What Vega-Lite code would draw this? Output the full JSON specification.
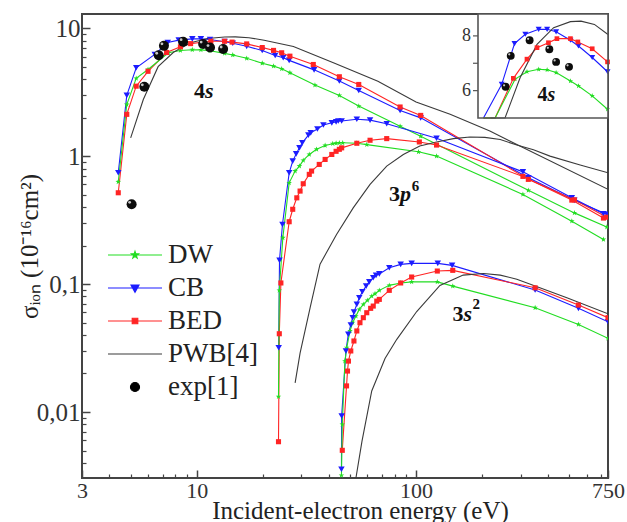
{
  "$schema": "https://vega.github.io/schema/vega-lite/v6.json",
  "width": 526,
  "height": 464,
  "autosize": {"type": "pad"},
  "padding": {"left": 17, "top": 13, "right": 5, "bottom": 5},
  "background": "white",
  "config": {
    "view": {"stroke": "#444", "strokeWidth": 2},
    "font": "Liberation Serif"
  },
  "datasets": {
    "curves": [
      {"m":"CB","s":"4s","e":4.39,"v":0.741},{"m":"CB","s":"4s","e":4.8,"v":2.98},{"m":"CB","s":"4s","e":5.3,"v":4.9},{"m":"CB","s":"4s","e":6.44,"v":6.23},{"m":"CB","s":"4s","e":7.38,"v":7.72},{"m":"CB","s":"4s","e":8.28,"v":8.06},{"m":"CB","s":"4s","e":9.55,"v":8.24},{"m":"CB","s":"4s","e":10.45,"v":8.24},{"m":"CB","s":"4s","e":11.5,"v":8.15},{"m":"CB","s":"4s","e":13.4,"v":7.84},{"m":"CB","s":"4s","e":14.6,"v":7.63},{"m":"CB","s":"4s","e":16.9,"v":7.21},{"m":"CB","s":"4s","e":19.9,"v":6.69},{"m":"CB","s":"4s","e":22.8,"v":6.12},{"m":"CB","s":"4s","e":24.8,"v":5.87},{"m":"CB","s":"4s","e":26.4,"v":5.6},{"m":"CB","s":"4s","e":34.3,"v":4.72},{"m":"CB","s":"4s","e":44.7,"v":3.86},{"m":"CB","s":"4s","e":54.8,"v":3.26},{"m":"CB","s":"4s","e":84.6,"v":2.27},{"m":"CB","s":"4s","e":105,"v":1.99},{"m":"CB","s":"4s","e":325,"v":0.677},{"m":"CB","s":"4s","e":527,"v":0.451},{"m":"CB","s":"4s","e":741,"v":0.351},
      {"m":"BED","s":"4s","e":4.39,"v":0.517},{"m":"BED","s":"4s","e":4.8,"v":2.12},{"m":"BED","s":"4s","e":5.3,"v":3.52},{"m":"BED","s":"4s","e":6.0,"v":4.6},{"m":"BED","s":"4s","e":7.29,"v":6.45},{"m":"BED","s":"4s","e":8.43,"v":7.15},{"m":"BED","s":"4s","e":9.38,"v":7.57},{"m":"BED","s":"4s","e":10.6,"v":7.75},{"m":"BED","s":"4s","e":11.6,"v":7.9},{"m":"BED","s":"4s","e":13.4,"v":7.9},{"m":"BED","s":"4s","e":14.5,"v":7.78},{"m":"BED","s":"4s","e":16.9,"v":7.53},{"m":"BED","s":"4s","e":19.9,"v":7.05},{"m":"BED","s":"4s","e":22.4,"v":6.7},{"m":"BED","s":"4s","e":24.4,"v":6.42},{"m":"BED","s":"4s","e":26.6,"v":6.04},{"m":"BED","s":"4s","e":34.0,"v":5.2},{"m":"BED","s":"4s","e":44.7,"v":4.17},{"m":"BED","s":"4s","e":54.8,"v":3.63},{"m":"BED","s":"4s","e":84.6,"v":2.42},{"m":"BED","s":"4s","e":105,"v":2.08},{"m":"BED","s":"4s","e":325,"v":0.658},{"m":"BED","s":"4s","e":527,"v":0.455},{"m":"BED","s":"4s","e":741,"v":0.333},
      {"m":"DW","s":"4s","e":4.39,"v":0.63},{"m":"DW","s":"4s","e":4.8,"v":2.53},{"m":"DW","s":"4s","e":5.3,"v":4.05},{"m":"DW","s":"4s","e":6.0,"v":4.75},{"m":"DW","s":"4s","e":7.43,"v":6.42},{"m":"DW","s":"4s","e":8.43,"v":6.69},{"m":"DW","s":"4s","e":9.55,"v":6.78},{"m":"DW","s":"4s","e":10.45,"v":6.76},{"m":"DW","s":"4s","e":11.5,"v":6.66},{"m":"DW","s":"4s","e":13.4,"v":6.35},{"m":"DW","s":"4s","e":14.6,"v":6.17},{"m":"DW","s":"4s","e":16.9,"v":5.81},{"m":"DW","s":"4s","e":19.9,"v":5.32},{"m":"DW","s":"4s","e":22.4,"v":5.05},{"m":"DW","s":"4s","e":24.4,"v":4.81},{"m":"DW","s":"4s","e":26.6,"v":4.48},{"m":"DW","s":"4s","e":34.6,"v":3.59},{"m":"DW","s":"4s","e":44.7,"v":2.98},{"m":"DW","s":"4s","e":54.8,"v":2.46},{"m":"DW","s":"4s","e":84.6,"v":1.71},{"m":"DW","s":"4s","e":105,"v":1.43},{"m":"DW","s":"4s","e":325,"v":0.54},{"m":"DW","s":"4s","e":527,"v":0.36},{"m":"DW","s":"4s","e":741,"v":0.279},
      {"m":"PWB[4]","s":"4s","e":5.0,"v":1.39},{"m":"PWB[4]","s":"4s","e":5.71,"v":2.77},{"m":"PWB[4]","s":"4s","e":6.67,"v":5.0},{"m":"PWB[4]","s":"4s","e":7.84,"v":6.48},{"m":"PWB[4]","s":"4s","e":9.38,"v":7.69},{"m":"PWB[4]","s":"4s","e":11.2,"v":8.3},{"m":"PWB[4]","s":"4s","e":13.4,"v":8.52},{"m":"PWB[4]","s":"4s","e":15.0,"v":8.54},{"m":"PWB[4]","s":"4s","e":17.3,"v":8.42},{"m":"PWB[4]","s":"4s","e":20.3,"v":8.05},{"m":"PWB[4]","s":"4s","e":27.6,"v":7.2},{"m":"PWB[4]","s":"4s","e":42,"v":5.36},{"m":"PWB[4]","s":"4s","e":67,"v":3.85},{"m":"PWB[4]","s":"4s","e":100,"v":2.65},{"m":"PWB[4]","s":"4s","e":143,"v":2.12},{"m":"PWB[4]","s":"4s","e":217,"v":1.57},{"m":"PWB[4]","s":"4s","e":288,"v":1.23},{"m":"PWB[4]","s":"4s","e":750,"v":0.55},
      {"m":"CB","s":"3p","e":23.65,"v":0.0318},{"m":"CB","s":"3p","e":23.85,"v":0.153},{"m":"CB","s":"3p","e":24.6,"v":0.292},{"m":"CB","s":"3p","e":26.4,"v":0.741},{"m":"CB","s":"3p","e":27.4,"v":0.914},{"m":"CB","s":"3p","e":28.4,"v":1.04},{"m":"CB","s":"3p","e":29.4,"v":1.16},{"m":"CB","s":"3p","e":30.3,"v":1.27},{"m":"CB","s":"3p","e":32.3,"v":1.46},{"m":"CB","s":"3p","e":33.1,"v":1.52},{"m":"CB","s":"3p","e":35.5,"v":1.63},{"m":"CB","s":"3p","e":37.8,"v":1.75},{"m":"CB","s":"3p","e":41.3,"v":1.82},{"m":"CB","s":"3p","e":43.2,"v":1.85},{"m":"CB","s":"3p","e":44.2,"v":1.88},{"m":"CB","s":"3p","e":45.8,"v":1.88},{"m":"CB","s":"3p","e":53.7,"v":1.94},{"m":"CB","s":"3p","e":61.7,"v":1.91},{"m":"CB","s":"3p","e":73.5,"v":1.79},{"m":"CB","s":"3p","e":124,"v":1.38},{"m":"CB","s":"3p","e":307,"v":0.753},{"m":"CB","s":"3p","e":513,"v":0.472},{"m":"CB","s":"3p","e":715,"v":0.354},
      {"m":"BED","s":"3p","e":23.6,"v":0.00586},{"m":"BED","s":"3p","e":23.8,"v":0.0409},{"m":"BED","s":"3p","e":24.2,"v":0.102},{"m":"BED","s":"3p","e":26.4,"v":0.307},{"m":"BED","s":"3p","e":27.4,"v":0.384},{"m":"BED","s":"3p","e":28.6,"v":0.472},{"m":"BED","s":"3p","e":29.6,"v":0.533},{"m":"BED","s":"3p","e":30.6,"v":0.608},{"m":"BED","s":"3p","e":32.6,"v":0.72},{"m":"BED","s":"3p","e":33.4,"v":0.764},{"m":"BED","s":"3p","e":36.2,"v":0.861},{"m":"BED","s":"3p","e":38.5,"v":0.942},{"m":"BED","s":"3p","e":41.3,"v":1.03},{"m":"BED","s":"3p","e":43.2,"v":1.09},{"m":"BED","s":"3p","e":44.7,"v":1.13},{"m":"BED","s":"3p","e":45.8,"v":1.16},{"m":"BED","s":"3p","e":53.7,"v":1.26},{"m":"BED","s":"3p","e":61.7,"v":1.33},{"m":"BED","s":"3p","e":73.5,"v":1.37},{"m":"BED","s":"3p","e":103.5,"v":1.29},{"m":"BED","s":"3p","e":124,"v":1.22},{"m":"BED","s":"3p","e":307,"v":0.694},{"m":"BED","s":"3p","e":513,"v":0.453},{"m":"BED","s":"3p","e":715,"v":0.328},
      {"m":"DW","s":"3p","e":23.6,"v":0.0132},{"m":"DW","s":"3p","e":23.8,"v":0.0893},{"m":"DW","s":"3p","e":24.7,"v":0.23},{"m":"DW","s":"3p","e":26.4,"v":0.618},{"m":"DW","s":"3p","e":28.1,"v":0.764},{"m":"DW","s":"3p","e":29.4,"v":0.836},{"m":"DW","s":"3p","e":30.6,"v":0.925},{"m":"DW","s":"3p","e":32.6,"v":1.03},{"m":"DW","s":"3p","e":35.2,"v":1.13},{"m":"DW","s":"3p","e":38.5,"v":1.21},{"m":"DW","s":"3p","e":41.7,"v":1.25},{"m":"DW","s":"3p","e":43.2,"v":1.26},{"m":"DW","s":"3p","e":44.7,"v":1.27},{"m":"DW","s":"3p","e":46.3,"v":1.27},{"m":"DW","s":"3p","e":53.7,"v":1.26},{"m":"DW","s":"3p","e":59.6,"v":1.23},{"m":"DW","s":"3p","e":102.6,"v":1.08},{"m":"DW","s":"3p","e":124,"v":1.0},{"m":"DW","s":"3p","e":307,"v":0.502},{"m":"DW","s":"3p","e":513,"v":0.31},{"m":"DW","s":"3p","e":715,"v":0.223},
      {"m":"PWB[4]","s":"3p","e":28.1,"v":0.0169},{"m":"PWB[4]","s":"3p","e":29.6,"v":0.0289},{"m":"PWB[4]","s":"3p","e":32.9,"v":0.0653},{"m":"PWB[4]","s":"3p","e":36.5,"v":0.143},{"m":"PWB[4]","s":"3p","e":43.4,"v":0.244},{"m":"PWB[4]","s":"3p","e":51.7,"v":0.394},{"m":"PWB[4]","s":"3p","e":61.7,"v":0.601},{"m":"PWB[4]","s":"3p","e":73.5,"v":0.835},{"m":"PWB[4]","s":"3p","e":87.5,"v":1.03},{"m":"PWB[4]","s":"3p","e":104,"v":1.2},{"m":"PWB[4]","s":"3p","e":124,"v":1.29},{"m":"PWB[4]","s":"3p","e":148,"v":1.37},{"m":"PWB[4]","s":"3p","e":176,"v":1.41},{"m":"PWB[4]","s":"3p","e":206,"v":1.4},{"m":"PWB[4]","s":"3p","e":242,"v":1.35},{"m":"PWB[4]","s":"3p","e":288,"v":1.22},{"m":"PWB[4]","s":"3p","e":343,"v":1.12},{"m":"PWB[4]","s":"3p","e":408,"v":1.0},{"m":"PWB[4]","s":"3p","e":560,"v":0.851},{"m":"PWB[4]","s":"3p","e":750,"v":0.741},
      {"m":"CB","s":"3s","e":45.7,"v":0.00357},{"m":"CB","s":"3s","e":45.8,"v":0.0093},{"m":"CB","s":"3s","e":47.9,"v":0.03},{"m":"CB","s":"3s","e":49.1,"v":0.0405},{"m":"CB","s":"3s","e":50.4,"v":0.0479},{"m":"CB","s":"3s","e":51.4,"v":0.0546},{"m":"CB","s":"3s","e":52.1,"v":0.0604},{"m":"CB","s":"3s","e":53.7,"v":0.0694},{"m":"CB","s":"3s","e":55.1,"v":0.0782},{"m":"CB","s":"3s","e":56.9,"v":0.0871},{"m":"CB","s":"3s","e":59.2,"v":0.0964},{"m":"CB","s":"3s","e":61.2,"v":0.104},{"m":"CB","s":"3s","e":63.8,"v":0.112},{"m":"CB","s":"3s","e":65.7,"v":0.117},{"m":"CB","s":"3s","e":68.0,"v":0.12},{"m":"CB","s":"3s","e":75.5,"v":0.134},{"m":"CB","s":"3s","e":85.1,"v":0.1425},{"m":"CB","s":"3s","e":95.5,"v":0.145},{"m":"CB","s":"3s","e":125.6,"v":0.145},{"m":"CB","s":"3s","e":146,"v":0.14},{"m":"CB","s":"3s","e":349,"v":0.0898},{"m":"CB","s":"3s","e":550,"v":0.0646},{"m":"CB","s":"3s","e":750,"v":0.0507},
      {"m":"BED","s":"3s","e":46.1,"v":0.00502},{"m":"BED","s":"3s","e":48.2,"v":0.016},{"m":"BED","s":"3s","e":48.7,"v":0.0209},{"m":"BED","s":"3s","e":49.2,"v":0.025},{"m":"BED","s":"3s","e":50.4,"v":0.03},{"m":"BED","s":"3s","e":52.1,"v":0.0359},{"m":"BED","s":"3s","e":53.7,"v":0.043},{"m":"BED","s":"3s","e":55.5,"v":0.0499},{"m":"BED","s":"3s","e":57.5,"v":0.0546},{"m":"BED","s":"3s","e":59.6,"v":0.0597},{"m":"BED","s":"3s","e":62.1,"v":0.0646},{"m":"BED","s":"3s","e":63.8,"v":0.0673},{"m":"BED","s":"3s","e":66.2,"v":0.0736},{"m":"BED","s":"3s","e":68.0,"v":0.0759},{"m":"BED","s":"3s","e":75.5,"v":0.0893},{"m":"BED","s":"3s","e":85.1,"v":0.102},{"m":"BED","s":"3s","e":95.5,"v":0.1135},{"m":"BED","s":"3s","e":125,"v":0.1264},{"m":"BED","s":"3s","e":147,"v":0.128},{"m":"BED","s":"3s","e":349,"v":0.0935},{"m":"BED","s":"3s","e":550,"v":0.0685},{"m":"BED","s":"3s","e":750,"v":0.0546},
      {"m":"DW","s":"3s","e":45.7,"v":0.0032},{"m":"DW","s":"3s","e":46.1,"v":0.008},{"m":"DW","s":"3s","e":47.4,"v":0.025},{"m":"DW","s":"3s","e":48.3,"v":0.0318},{"m":"DW","s":"3s","e":50.0,"v":0.043},{"m":"DW","s":"3s","e":51.4,"v":0.0499},{"m":"DW","s":"3s","e":53.2,"v":0.0562},{"m":"DW","s":"3s","e":55.1,"v":0.0634},{"m":"DW","s":"3s","e":57.5,"v":0.0694},{"m":"DW","s":"3s","e":60.0,"v":0.0746},{"m":"DW","s":"3s","e":62.8,"v":0.0805},{"m":"DW","s":"3s","e":65.0,"v":0.084},{"m":"DW","s":"3s","e":68.0,"v":0.0893},{"m":"DW","s":"3s","e":75.5,"v":0.0977},{"m":"DW","s":"3s","e":85.1,"v":0.102},{"m":"DW","s":"3s","e":95.5,"v":0.104},{"m":"DW","s":"3s","e":125,"v":0.104},{"m":"DW","s":"3s","e":147,"v":0.0964},{"m":"DW","s":"3s","e":349,"v":0.0653},{"m":"DW","s":"3s","e":550,"v":0.0484},{"m":"DW","s":"3s","e":750,"v":0.0377},
      {"m":"PWB[4]","s":"3s","e":53.2,"v":0.00305},{"m":"PWB[4]","s":"3s","e":56.7,"v":0.00593},{"m":"PWB[4]","s":"3s","e":62.8,"v":0.0146},{"m":"PWB[4]","s":"3s","e":72.2,"v":0.0262},{"m":"PWB[4]","s":"3s","e":81.7,"v":0.037},{"m":"PWB[4]","s":"3s","e":100.7,"v":0.061},{"m":"PWB[4]","s":"3s","e":128.5,"v":0.0975},{"m":"PWB[4]","s":"3s","e":164,"v":0.1175},{"m":"PWB[4]","s":"3s","e":203,"v":0.121},{"m":"PWB[4]","s":"3s","e":242,"v":0.1175},{"m":"PWB[4]","s":"3s","e":288,"v":0.109},{"m":"PWB[4]","s":"3s","e":349,"v":0.0964},{"m":"PWB[4]","s":"3s","e":487,"v":0.0782},{"m":"PWB[4]","s":"3s","e":750,"v":0.0586}
    ],
    "exp": [
      {"e":5.05,"v":0.42},{"e":5.77,"v":3.48},{"e":6.71,"v":6.14},{"e":7.09,"v":7.27},{"e":8.67,"v":7.84},{"e":10.7,"v":7.51},{"e":11.5,"v":7.05},{"e":13.2,"v":6.87}
    ],
    "keys": [{"m":"DW"},{"m":"CB"},{"m":"BED"},{"m":"PWB[4]"},{"m":"exp[1]"}],
    "tags": [
      {"e":10.9,"v":2.84,"n":"4","l":"s"},
      {"e":84.5,"v":0.445,"n":"3","l":"p"},
      {"e":164.4,"v":0.0514,"n":"3","l":"s"}
    ],
    "sups": [
      {"e":95.6,"v":0.534,"t":"6"},
      {"e":180.9,"v":0.0639,"t":"2"}
    ],
    "box": [{"e1":5,"e2":20,"v1":5,"v2":8.8}],
    "insetTicks": [{"e":5,"v":6,"t":"6"},{"e":5,"v":7,"t":""},{"e":5,"v":8,"t":"8"}],
    "insetTag": [{"e":10.5,"v":5.625,"n":"4","l":"s"}]
  },
  "resolve": {"scale": {"x": "independent", "y": "independent"}},
  "layer": [
    {
      "resolve": {"axis": {"x": "independent", "y": "independent"}},
      "layer": [
        {
          "data": {"name": "curves"},
          "mark": {"type": "line", "strokeWidth": 1.1, "clip": true},
          "encoding": {
            "x": {
              "field": "e", "type": "quantitative",
              "scale": {"type": "log", "domain": [3, 750], "nice": false},
              "axis": {
                "orient": "bottom", "values": [3, 10, 100, 750], "format": "d",
                "grid": false, "domain": false,
                "tickSize": -8, "tickWidth": 1.5, "tickColor": "#444",
                "labelPadding": 10, "labelFlush": false, "labelOverlap": false,
                "labelFont": "Liberation Serif", "labelFontSize": 22, "labelColor": "#333",
                "title": "Incident-electron energy (eV)",
                "titleFont": "Liberation Serif", "titleFontSize": 25, "titleFontWeight": "normal", "titleColor": "#222",
                "titleX": 278, "titleY": 40, "titleAlign": "center", "titleBaseline": "alphabetic"
              }
            },
            "y": {
              "field": "v", "type": "quantitative",
              "scale": {"type": "log", "domain": [0.00305, 12.9], "nice": false},
              "axis": {
                "orient": "left", "values": [0.01, 0.1, 1, 10], "format": "~g",
                "labelExpr": "replace(datum.label, '.', ',')",
                "grid": false, "domain": false,
                "tickSize": -8, "tickWidth": 1.5, "tickColor": "#444",
                "labelPadding": 10, "labelOverlap": false,
                "labelFont": "Liberation Serif", "labelFontSize": 25, "labelColor": "#333",
                "title": "σᵢₒₙ (10⁻¹⁶cm²)",
                "titleFont": "Liberation Serif", "titleFontSize": 25, "titleFontWeight": "normal", "titleColor": "#222",
                "titleX": -45, "titleY": 232, "titleAngle": -90, "titleAlign": "center", "titleBaseline": "alphabetic"
              }
            },
            "color": {
              "field": "m", "type": "nominal",
              "scale": {
                "domain": ["DW", "CB", "BED", "PWB[4]"],
                "range": ["#22dd22", "#1c1cff", "#ff2424", "#3a3a3a"]
              },
              "legend": null
            },
            "detail": {"field": "s", "type": "nominal"}
          }
        },
        {
          "data": {"name": "curves"},
          "transform": [{"filter": "datum.m == 'DW'"}],
          "mark": {"type": "point", "filled": true, "opacity": 1, "clip": true, "color": "#22dd22", "size": 34,
                   "shape": "M0,-1L0.235,-0.324L0.951,-0.309L0.38,0.124L0.588,0.809L0,0.4L-0.588,0.809L-0.38,0.124L-0.951,-0.309L-0.235,-0.324Z"},
          "encoding": {
            "x": {
              "field": "e", "type": "quantitative",
              "axis": {
                "orient": "bottom", "values": [4,5,6,7,8,9,20,30,40,50,60,70,80,90,200,300,400,500,600,700],
                "labels": false, "domain": false, "grid": false, "title": null,
                "tickSize": -4, "tickWidth": 1.2, "tickColor": "#444"
              }
            },
            "y": {
              "field": "v", "type": "quantitative",
              "axis": {
                "orient": "left",
                "values": [0.004,0.005,0.006,0.007,0.008,0.009,0.02,0.03,0.04,0.05,0.06,0.07,0.08,0.09,0.2,0.3,0.4,0.5,0.6,0.7,0.8,0.9,2,3,4,5,6,7,8,9],
                "labels": false, "domain": false, "grid": false, "title": null,
                "tickSize": -4, "tickWidth": 1.2, "tickColor": "#444"
              }
            }
          }
        },
        {
          "data": {"name": "curves"},
          "transform": [{"filter": "datum.m == 'CB'"}],
          "mark": {"type": "point", "filled": true, "opacity": 1, "clip": true, "color": "#1c1cff", "size": 42, "shape": "triangle-down"},
          "encoding": {
            "x": {"field": "e", "type": "quantitative", "axis": null},
            "y": {"field": "v", "type": "quantitative", "axis": null}
          }
        },
        {
          "data": {"name": "curves"},
          "transform": [{"filter": "datum.m == 'BED'"}],
          "mark": {"type": "point", "filled": true, "opacity": 1, "clip": true, "color": "#ff2424", "size": 26, "shape": "square"},
          "encoding": {
            "x": {"field": "e", "type": "quantitative", "axis": null},
            "y": {"field": "v", "type": "quantitative", "axis": null}
          }
        },
        {
          "data": {"name": "exp"},
          "mark": {"type": "point", "shape": "circle", "filled": true, "size": 100, "opacity": 1, "color": "#0c0c0c"},
          "encoding": {
            "x": {"field": "e", "type": "quantitative", "axis": null},
            "y": {"field": "v", "type": "quantitative", "axis": null}
          }
        },
        {
          "data": {"name": "exp"},
          "mark": {"type": "point", "shape": "circle", "filled": true, "size": 8, "opacity": 0.85, "color": "#e8e8e8", "xOffset": -2, "yOffset": -2},
          "encoding": {
            "x": {"field": "e", "type": "quantitative", "axis": null},
            "y": {"field": "v", "type": "quantitative", "axis": null}
          }
        },
        {
          "data": {"name": "tags"},
          "mark": {"type": "text", "align": "right", "baseline": "alphabetic", "font": "Liberation Serif", "fontSize": 22, "fontWeight": "bold", "color": "#111"},
          "encoding": {
            "x": {"field": "e", "type": "quantitative", "axis": null},
            "y": {"field": "v", "type": "quantitative", "axis": null},
            "text": {"field": "n"}
          }
        },
        {
          "data": {"name": "tags"},
          "mark": {"type": "text", "align": "left", "baseline": "alphabetic", "font": "Liberation Serif", "fontSize": 22, "fontWeight": "bold", "fontStyle": "italic", "color": "#111"},
          "encoding": {
            "x": {"field": "e", "type": "quantitative", "axis": null},
            "y": {"field": "v", "type": "quantitative", "axis": null},
            "text": {"field": "l"}
          }
        },
        {
          "data": {"name": "sups"},
          "mark": {"type": "text", "align": "left", "baseline": "alphabetic", "font": "Liberation Serif", "fontSize": 15, "fontWeight": "bold", "color": "#111"},
          "encoding": {
            "x": {"field": "e", "type": "quantitative", "axis": null},
            "y": {"field": "v", "type": "quantitative", "axis": null},
            "text": {"field": "t"}
          }
        },
        {
          "data": {"name": "keys"},
          "mark": {"type": "point", "filled": true, "size": 0, "opacity": 1},
          "encoding": {
            "fill": {
              "field": "m", "type": "nominal",
              "scale": {"domain": ["DW", "CB", "BED", "PWB[4]", "exp[1]"], "range": ["#22dd22", "#1c1cff", "#ff2424", "#3a3a3a", "#000000"]},
              "legend": {
                "orient": "none", "legendX": 39.5, "legendY": 227.5, "title": null, "padding": 0,
                "symbolSize": 576, "symbolStrokeWidth": 1.2,
                "labelFont": "Liberation Serif", "labelFontSize": 27, "labelColor": "#222",
                "labelOffset": 19.5, "rowPadding": 5, "labelLimit": 200
              }
            },
            "stroke": {
              "field": "m", "type": "nominal",
              "scale": {"domain": ["DW", "CB", "BED", "PWB[4]", "exp[1]"], "range": ["#22dd22", "#1c1cff", "#ff2424", "#3a3a3a", "#000000"]},
              "legend": {
                "orient": "none", "legendX": 39.5, "legendY": 227.5, "title": null, "padding": 0,
                "symbolSize": 576, "symbolStrokeWidth": 1.2,
                "labelFont": "Liberation Serif", "labelFontSize": 27, "labelColor": "#222",
                "labelOffset": 19.5, "rowPadding": 5, "labelLimit": 200
              }
            },
            "shape": {
              "field": "m", "type": "nominal",
              "scale": {
                "domain": ["DW", "CB", "BED", "PWB[4]", "exp[1]"],
                "range": [
                  "M-2.25,0H2.25M0,-0.3L0.071,-0.097L0.285,-0.093L0.114,0.037L0.176,0.243L0,0.12L-0.176,0.243L-0.114,0.037L-0.285,-0.093L-0.071,-0.097Z",
                  "M-2.25,0H2.25M-0.33,-0.25L0.33,-0.25L0,0.36Z",
                  "M-2.25,0H2.25M-0.23,-0.23H0.23V0.23H-0.23Z",
                  "M-2.25,0H2.25",
                  "M-0.375,0A0.375,0.375,0,1,0,0.375,0A0.375,0.375,0,1,0,-0.375,0Z"
                ]
              },
              "legend": {
                "orient": "none", "legendX": 39.5, "legendY": 227.5, "title": null, "padding": 0,
                "symbolSize": 576, "symbolStrokeWidth": 1.2,
                "labelFont": "Liberation Serif", "labelFontSize": 27, "labelColor": "#222",
                "labelOffset": 19.5, "rowPadding": 5, "labelLimit": 200
              }
            }
          }
        }
      ]
    },
    {
      "layer": [
        {
          "data": {"name": "box"},
          "mark": {"type": "rect", "fill": "white", "strokeWidth": 0},
          "encoding": {
            "x": {
              "field": "e1", "type": "quantitative",
              "scale": {"type": "log", "domain": [5, 20], "range": [396, 526], "clamp": true, "nice": false},
              "axis": null
            },
            "x2": {"field": "e2"},
            "y": {
              "field": "v1", "type": "quantitative",
              "scale": {"domain": [5, 8.8], "range": [104, 0], "clamp": true, "nice": false, "zero": false},
              "axis": null
            },
            "y2": {"field": "v2"}
          }
        },
        {
          "data": {"name": "curves"},
          "transform": [{"filter": "datum.s == '4s' && datum.e >= 5.2 && datum.e <= 21"}],
          "mark": {"type": "line", "strokeWidth": 1.1},
          "encoding": {
            "x": {"field": "e", "type": "quantitative", "axis": null},
            "y": {"field": "v", "type": "quantitative", "axis": null},
            "color": {"field": "m", "type": "nominal", "legend": null},
            "detail": {"field": "s", "type": "nominal"}
          }
        },
        {
          "data": {"name": "curves"},
          "transform": [{"filter": "datum.s == '4s' && datum.m == 'DW' && datum.e >= 5 && datum.e <= 20.5 && datum.v >= 5"}],
          "mark": {"type": "point", "filled": true, "opacity": 1, "color": "#22dd22", "size": 30,
                   "shape": "M0,-1L0.235,-0.324L0.951,-0.309L0.38,0.124L0.588,0.809L0,0.4L-0.588,0.809L-0.38,0.124L-0.951,-0.309L-0.235,-0.324Z"},
          "encoding": {
            "x": {"field": "e", "type": "quantitative", "axis": null},
            "y": {"field": "v", "type": "quantitative", "axis": null}
          }
        },
        {
          "data": {"name": "curves"},
          "transform": [{"filter": "datum.s == '4s' && datum.m == 'CB' && datum.e >= 5 && datum.e <= 20.5 && datum.v >= 5"}],
          "mark": {"type": "point", "filled": true, "opacity": 1, "color": "#1c1cff", "size": 36, "shape": "triangle-down"},
          "encoding": {
            "x": {"field": "e", "type": "quantitative", "axis": null},
            "y": {"field": "v", "type": "quantitative", "axis": null}
          }
        },
        {
          "data": {"name": "curves"},
          "transform": [{"filter": "datum.s == '4s' && datum.m == 'BED' && datum.e >= 5 && datum.e <= 20.5 && datum.v >= 5"}],
          "mark": {"type": "point", "filled": true, "opacity": 1, "color": "#ff2424", "size": 22, "shape": "square"},
          "encoding": {
            "x": {"field": "e", "type": "quantitative", "axis": null},
            "y": {"field": "v", "type": "quantitative", "axis": null}
          }
        },
        {
          "data": {"name": "exp"},
          "transform": [{"filter": "datum.v >= 5"}],
          "mark": {"type": "point", "shape": "circle", "filled": true, "size": 62, "opacity": 1, "color": "#0c0c0c"},
          "encoding": {
            "x": {"field": "e", "type": "quantitative", "axis": null},
            "y": {"field": "v", "type": "quantitative", "axis": null}
          }
        },
        {
          "data": {"name": "exp"},
          "transform": [{"filter": "datum.v >= 5"}],
          "mark": {"type": "point", "shape": "circle", "filled": true, "size": 5, "opacity": 0.85, "color": "#e8e8e8", "xOffset": -1.5, "yOffset": -1.5},
          "encoding": {
            "x": {"field": "e", "type": "quantitative", "axis": null},
            "y": {"field": "v", "type": "quantitative", "axis": null}
          }
        },
        {
          "data": {"name": "box"},
          "mark": {"type": "rect", "fill": null, "fillOpacity": 0, "stroke": "#555", "strokeWidth": 1.6},
          "encoding": {
            "x": {"field": "e1", "type": "quantitative", "axis": null},
            "x2": {"field": "e2"},
            "y": {"field": "v1", "type": "quantitative", "axis": null},
            "y2": {"field": "v2"}
          }
        },
        {
          "data": {"name": "insetTicks"},
          "mark": {"type": "tick", "orient": "horizontal", "size": 5, "thickness": 1.2, "color": "#555", "opacity": 1, "xOffset": -2.5},
          "encoding": {
            "x": {"field": "e", "type": "quantitative", "axis": null},
            "y": {"field": "v", "type": "quantitative", "axis": null}
          }
        },
        {
          "data": {"name": "insetTicks"},
          "mark": {"type": "text", "align": "right", "baseline": "middle", "dx": -7, "font": "Liberation Serif", "fontSize": 18, "color": "#333"},
          "encoding": {
            "x": {"field": "e", "type": "quantitative", "axis": null},
            "y": {"field": "v", "type": "quantitative", "axis": null},
            "text": {"field": "t"}
          }
        },
        {
          "data": {"name": "insetTag"},
          "mark": {"type": "text", "align": "right", "baseline": "alphabetic", "font": "Liberation Serif", "fontSize": 20, "fontWeight": "bold", "color": "#111"},
          "encoding": {
            "x": {"field": "e", "type": "quantitative", "axis": null},
            "y": {"field": "v", "type": "quantitative", "axis": null},
            "text": {"field": "n"}
          }
        },
        {
          "data": {"name": "insetTag"},
          "mark": {"type": "text", "align": "left", "baseline": "alphabetic", "font": "Liberation Serif", "fontSize": 20, "fontWeight": "bold", "fontStyle": "italic", "color": "#111"},
          "encoding": {
            "x": {"field": "e", "type": "quantitative", "axis": null},
            "y": {"field": "v", "type": "quantitative", "axis": null},
            "text": {"field": "l"}
          }
        }
      ]
    }
  ]
}
